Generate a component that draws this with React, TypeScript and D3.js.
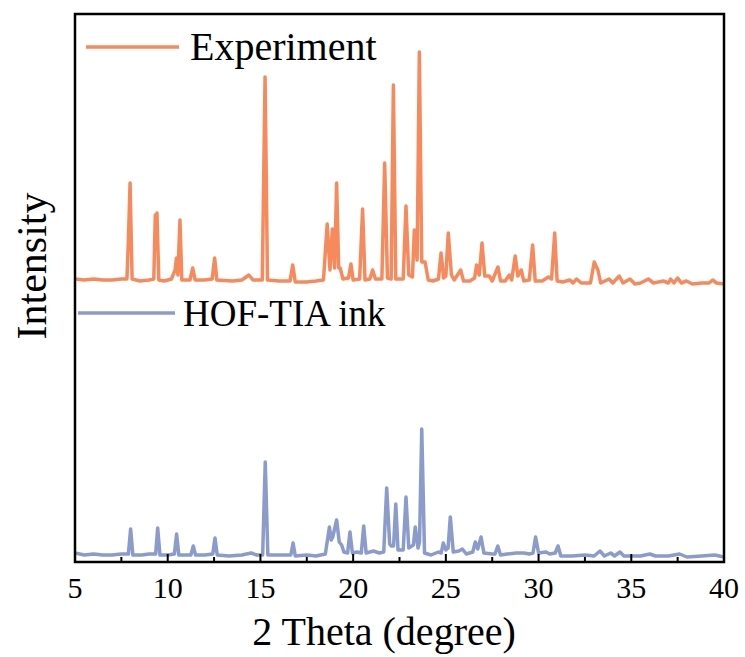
import React from "react";
import * as d3 from "d3";

// 2θ (degree) and intensity (a.u.)
const experiment: [number, number][] = [
  [5.0, 283], [5.5, 282], [6.0, 283], [6.5, 282], [7.0, 282], [7.5, 283], [7.8, 283],
  [7.88, 322], [7.97, 379], [8.08, 283], [8.5, 281], [9.0, 282], [9.25, 283],
  [9.33, 347], [9.38, 340], [9.42, 349], [9.52, 282], [9.8, 281], [10.2, 283], [10.4, 292],
  [10.47, 304], [10.55, 287], [10.66, 342], [10.76, 282], [11.2, 282], [11.35, 294],
  [11.48, 282], [12.0, 282], [12.4, 283], [12.53, 304], [12.65, 282], [13.5, 281],
  [14.0, 282], [14.38, 287], [14.6, 282], [15.1, 282], [15.25, 485], [15.38, 282],
  [16.0, 281], [16.6, 281], [16.74, 297], [16.88, 280], [17.5, 280], [18.0, 281],
  [18.4, 282], [18.6, 338], [18.75, 292], [18.88, 333], [19.0, 294], [19.11, 379],
  [19.22, 294], [19.3, 294], [19.45, 283], [19.75, 284], [19.88, 298], [20.0, 282],
  [20.35, 283], [20.51, 353], [20.64, 282], [20.9, 283], [21.05, 292], [21.2, 283],
  [21.55, 283], [21.7, 399], [21.85, 284], [22.05, 283], [22.17, 477], [22.3, 283],
  [22.7, 283], [22.85, 356], [23.0, 287], [23.2, 285], [23.3, 332], [23.45, 302],
  [23.57, 510], [23.7, 300], [23.88, 300], [24.05, 282], [24.3, 281], [24.6, 283],
  [24.74, 309], [24.88, 284], [25.0, 286], [25.13, 329], [25.3, 287], [25.45, 282],
  [25.8, 292], [25.95, 281], [26.3, 281], [26.55, 284], [26.66, 297], [26.8, 287],
  [26.95, 319], [27.1, 286], [27.34, 286], [27.5, 281], [27.81, 295], [27.95, 281],
  [28.2, 281], [28.42, 287], [28.55, 282], [28.74, 306], [28.88, 286], [29.07, 292],
  [29.2, 281], [29.5, 282], [29.68, 317], [29.82, 281], [30.2, 281], [30.53, 285],
  [30.7, 283], [30.87, 329], [31.0, 281], [31.3, 280], [31.69, 282], [31.85, 279],
  [32.05, 283], [32.3, 279], [32.8, 279], [33.0, 300], [33.2, 292], [33.35, 279],
  [33.8, 283], [34.0, 279], [34.35, 286], [34.55, 279], [34.93, 283], [35.2, 278],
  [35.5, 279], [35.92, 283], [36.2, 279], [36.73, 281], [37.0, 279], [37.12, 283],
  [37.3, 279], [37.5, 284], [37.7, 279], [37.97, 281], [38.3, 278], [38.8, 279],
  [39.2, 279], [39.39, 282], [39.6, 279], [40.0, 278],
];

const hofInk: [number, number][] = [
  [5.0, 9], [5.5, 7], [6.0, 8], [6.5, 7], [7.0, 7], [7.5, 8], [7.88, 8], [8.0, 33],
  [8.12, 7], [8.6, 7], [9.0, 8], [9.35, 8], [9.46, 34], [9.58, 7], [10.0, 7],
  [10.36, 8], [10.48, 28], [10.6, 7], [11.25, 7], [11.38, 16], [11.5, 7], [12.0, 7],
  [12.43, 8], [12.55, 24], [12.67, 7], [13.3, 6], [14.0, 7], [14.5, 9], [14.8, 7],
  [15.12, 7], [15.26, 100], [15.4, 7], [16.0, 7], [16.64, 7], [16.76, 19], [16.88, 6],
  [17.5, 7], [18.0, 6], [18.5, 8], [18.72, 35], [18.82, 22], [18.9, 25], [19.11, 42],
  [19.25, 20], [19.38, 17], [19.5, 10], [19.7, 9], [19.83, 30], [19.96, 9], [20.2, 10],
  [20.44, 9], [20.57, 36], [20.7, 9], [21.1, 11], [21.4, 9], [21.65, 10], [21.81, 74],
  [21.97, 18], [22.05, 16], [22.18, 16], [22.3, 58], [22.42, 12], [22.7, 12],
  [22.85, 65], [23.0, 14], [23.25, 17], [23.35, 35], [23.5, 14], [23.58, 20],
  [23.7, 133], [23.85, 9], [24.2, 7], [24.6, 10], [24.75, 9], [24.86, 19], [25.0, 12],
  [25.12, 14], [25.24, 45], [25.4, 10], [25.7, 11], [25.89, 13], [26.1, 8], [26.45, 10],
  [26.59, 20], [26.72, 13], [26.9, 25], [27.05, 9], [27.5, 8], [27.65, 8], [27.8, 16],
  [27.95, 7], [28.3, 8], [28.8, 9], [29.2, 9], [29.5, 8], [29.7, 9], [29.84, 25],
  [30.0, 9], [30.4, 10], [30.6, 8], [30.9, 9], [31.05, 16], [31.2, 6], [31.8, 6],
  [32.5, 7], [33.0, 6], [33.31, 11], [33.55, 6], [33.89, 9], [34.1, 6], [34.39, 10],
  [34.6, 6], [35.0, 6], [35.5, 6], [36.0, 8], [36.3, 6], [37.0, 6], [37.6, 8],
  [38.0, 5], [38.8, 6], [39.5, 7], [40.0, 5],
];

const majorTicks = [5, 10, 15, 20, 25, 30, 35, 40];
const minorTicks = [7.5, 12.5, 17.5, 22.5, 27.5, 32.5, 37.5];
const seriesNames = ["Experiment", "HOF-TIA ink"];

const W = 745, H = 657;
const M = { left: 75, right: 724, top: 14, bottom: 562 };
const ORANGE = "#F68A5D";
const BLUE = "#8B9BCB";
const FONT = "'Liberation Serif', 'Times New Roman', serif";

export default function App() {
  const x = d3.scaleLinear().domain([5, 40]).range([M.left, M.right]);
  const y = d3.scaleLinear().domain([0, 548]).range([M.bottom, M.top]);
  const line = d3
    .line<[number, number]>()
    .x((d) => x(d[0]))
    .y((d) => y(d[1]));

  return (
    <svg
      width={W}
      height={H}
      style={{ position: "absolute", left: 0, top: 0, background: "#fff" }}
    >
      <defs>
        <clipPath id="plot">
          <rect x={M.left} y={M.top} width={M.right - M.left} height={M.bottom - M.top} />
        </clipPath>
      </defs>
      <g clipPath="url(#plot)">
        <path d={line(experiment) || ""} fill="none" stroke={ORANGE} strokeWidth={3.5} strokeLinejoin="round" />
        <path d={line(hofInk) || ""} fill="none" stroke={BLUE} strokeWidth={3.5} strokeLinejoin="round" />
      </g>
      {majorTicks.map((t) => (
        <line key={"M" + t} x1={x(t)} x2={x(t)} y1={M.bottom} y2={M.bottom - 8} stroke="#000" strokeWidth={2} />
      ))}
      {minorTicks.map((t) => (
        <line key={"m" + t} x1={x(t)} x2={x(t)} y1={M.bottom} y2={M.bottom - 5} stroke="#000" strokeWidth={2} />
      ))}
      <rect
        x={M.left}
        y={M.top}
        width={M.right - M.left}
        height={M.bottom - M.top}
        fill="none"
        stroke="#000"
        strokeWidth={2.5}
      />
      {majorTicks.map((t) => (
        <text key={"l" + t} x={x(t)} y={598} textAnchor="middle" fontFamily={FONT} fontSize={30} fill="#000">
          {t}
        </text>
      ))}
      <text x={384} y={645} textAnchor="middle" fontFamily={FONT} fontSize={40} fill="#000">
        2 Theta (degree)
      </text>
      <text
        transform="translate(46,266) rotate(-90)"
        textAnchor="middle"
        fontFamily={FONT}
        fontSize={42}
        fill="#000"
      >
        Intensity
      </text>
      {/* legends */}
      <line x1={86} x2={179} y1={47} y2={47} stroke={ORANGE} strokeWidth={3.5} />
      <text x={190} y={60} fontFamily={FONT} fontSize={40} fill="#000">
        {seriesNames[0]}
      </text>
      <line x1={78} x2={175} y1={313} y2={313} stroke={BLUE} strokeWidth={3.5} />
      <text x={183} y={326} fontFamily={FONT} fontSize={37} fill="#000">
        {seriesNames[1]}
      </text>
    </svg>
  );
}
